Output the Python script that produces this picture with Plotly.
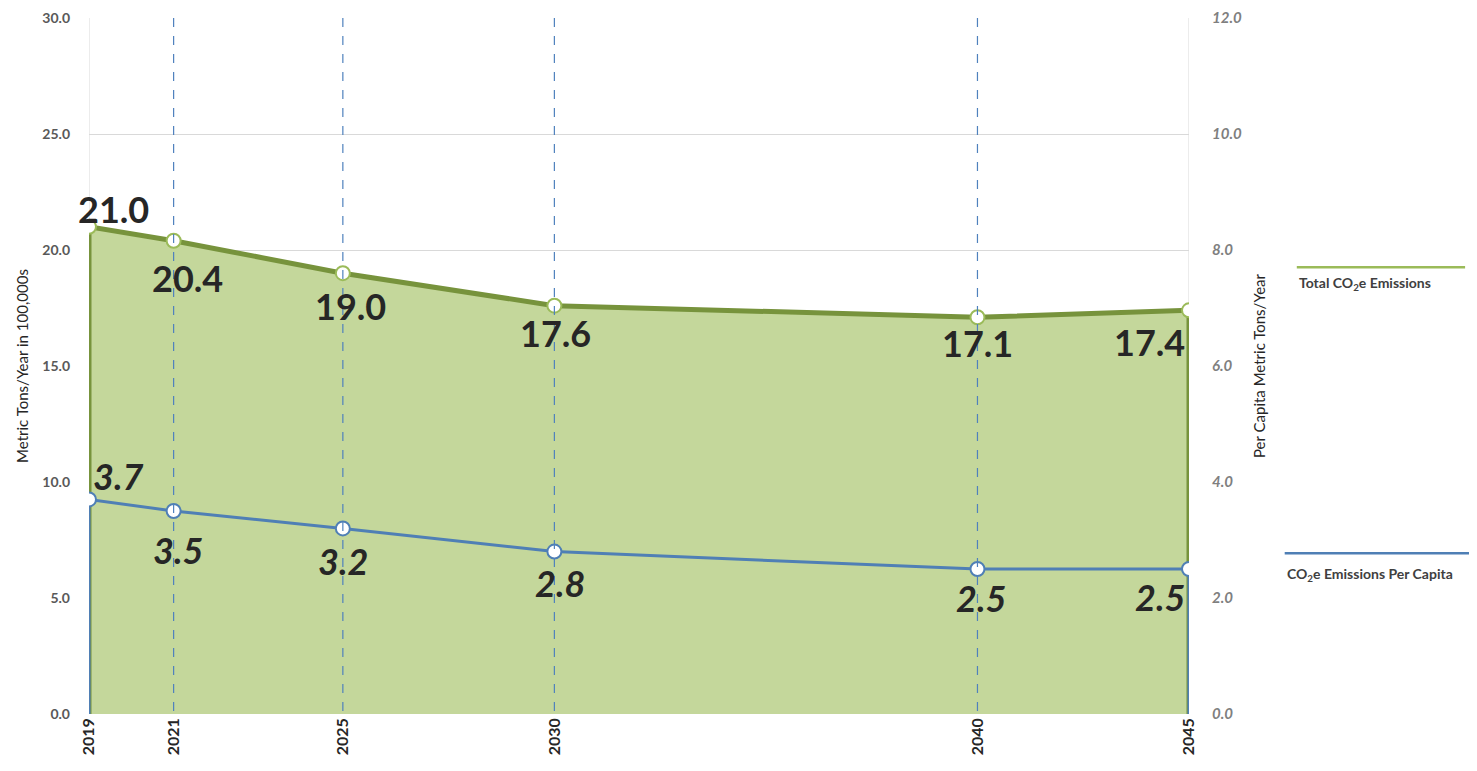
import plotly.graph_objects as go

years = [2019, 2021, 2025, 2030, 2040, 2045]
total_emissions = [21.0, 20.4, 19.0, 17.6, 17.1, 17.4]
per_capita = [3.7, 3.5, 3.2, 2.8, 2.5, 2.5]
left_ticks = [0, 5, 10, 15, 20, 25, 30]
right_ticks = [0, 2, 4, 6, 8, 10, 12]
dashed_years = [2021, 2025, 2030, 2040]

# label offsets in pixels (dx, dy down)
total_offsets = [(24, -18), (14, 37), (8, 33), (1, 27), (0, 26), (-40, 32)]
pc_offsets = [(29, -23), (4, 39), (0, 33), (6, 31), (4, 29), (-29, 28)]

FONT = "Lato"
fig = go.Figure()

ax = [years[0]] + years + [years[-1]]
ay = [0] + total_emissions + [0]
fig.add_trace(go.Scatter(x=ax, y=ay, mode="lines", fill="toself", fillcolor="#c4d79b",
                         line=dict(color="#77933c", width=5), hoverinfo="skip", showlegend=False))
fig.add_trace(go.Scatter(x=years, y=total_emissions, mode="markers",
                         marker=dict(size=14, color="white", line=dict(color="#9bbb59", width=2)),
                         showlegend=False))

py_ = [0] + per_capita + [0]
fig.add_trace(go.Scatter(x=ax, y=py_, yaxis="y2", mode="lines",
                         line=dict(color="#4f7fb5", width=3), hoverinfo="skip", showlegend=False))
fig.add_trace(go.Scatter(x=years, y=per_capita, yaxis="y2", mode="markers",
                         marker=dict(size=14, color="white", line=dict(color="#4f7fb5", width=2)),
                         showlegend=False))

annotations = []
for yr, v, (dx, dy) in zip(years, total_emissions, total_offsets):
    annotations.append(dict(x=yr, y=v, xref="x", yref="y", text=f"{v:.1f}", showarrow=False,
                            xanchor="center", yanchor="middle", xshift=dx, yshift=-dy,
                            font=dict(family=FONT, size=36, color="#262626", weight="bold")))
for yr, v, (dx, dy) in zip(years, per_capita, pc_offsets):
    annotations.append(dict(x=yr, y=v, xref="x", yref="y2", text=f"<i>{v:.1f}</i>", showarrow=False,
                            xanchor="center", yanchor="middle", xshift=dx, yshift=-dy,
                            font=dict(family=FONT, size=36, color="#262626", weight="bold")))

shapes = []
for yr in dashed_years:
    shapes.append(dict(type="line", xref="x", yref="paper", x0=yr, x1=yr, y0=1, y1=0,
                       line=dict(color="#4f81bd", width=1.2, dash="dash"), layer="above"))
for yr in [years[0], years[-1]]:
    shapes.append(dict(type="line", xref="x", yref="paper", x0=yr, x1=yr, y0=0, y1=1,
                       line=dict(color="#d9d9d9", width=1), layer="below"))
shapes.append(dict(type="line", xref="paper", yref="paper", x0=1.098, x1=1.251, y0=0.642, y1=0.642,
                   line=dict(color="#9bbb59", width=2.5)))
shapes.append(dict(type="line", xref="paper", yref="paper", x0=1.087, x1=1.262, y0=0.231, y1=0.231,
                   line=dict(color="#4f7fb5", width=2.5)))

annotations += [
    dict(xref="paper", yref="paper", x=1.098, y=0.618, xanchor="left", yanchor="middle",
         text="Total CO<sub>2</sub>e Emissions", showarrow=False,
         font=dict(family=FONT, size=14, color="#404040", weight="bold")),
    dict(xref="paper", yref="paper", x=1.087, y=0.200, xanchor="left", yanchor="middle",
         text="CO<sub>2</sub>e Emissions Per Capita", showarrow=False,
         font=dict(family=FONT, size=14, color="#404040", weight="bold")),
]

fig.update_layout(
    width=1477, height=771, autosize=False,
    margin=dict(l=81, r=296, t=10, b=65, autoexpand=False),
    plot_bgcolor="white", paper_bgcolor="white",
    shapes=shapes, annotations=annotations,
    xaxis=dict(range=[years[0], years[-1]], tickvals=years, ticktext=[str(y) for y in years],
               tickangle=-90, showgrid=False, zeroline=False, showline=False, automargin=False,
               tickfont=dict(family=FONT, size=16, color="#262626", weight="bold")),
    yaxis=dict(range=[0, 30], tickvals=left_ticks, ticktext=[f"{v:.1f}" for v in left_ticks],
               showgrid=True, gridcolor="#d9d9d9", zeroline=False, showline=False, automargin=False,
               ticklabelstandoff=18,
               tickfont=dict(family=FONT, size=14, color="#595959", weight="bold"),
               title=dict(text="Metric Tons/Year in 100,000s", standoff=10,
                          font=dict(family=FONT, size=15, color="#262626"))),
    yaxis2=dict(range=[0, 12], tickvals=right_ticks, ticktext=[f"<i>{v:.1f}</i>" for v in right_ticks],
                overlaying="y", side="right", showgrid=False, zeroline=False, showline=False,
                automargin=False, ticklabelstandoff=22,
                tickfont=dict(family=FONT, size=15, color="#7f7f7f", weight="bold"),
                title=dict(text="Per Capita Metric Tons/Year", standoff=13,
                           font=dict(family=FONT, size=15, color="#262626"))),
)

fig.write_html("out.html")
